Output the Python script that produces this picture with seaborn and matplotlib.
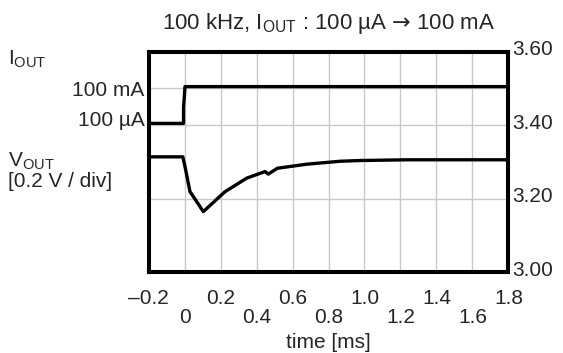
import seaborn as sns
import pandas as pd
import matplotlib.pyplot as plt
from matplotlib.transforms import ScaledTranslation

# traces (y in volts of the right-hand scale)
time_iout = [-0.2, -0.006, -0.006, -0.001, 0.002, 1.8]
iout_trace = [3.405, 3.405, 3.45, 3.48, 3.505, 3.505]

time_vout = [-0.2, -0.01, 0.002, 0.030, 0.039, 0.104, 0.224, 0.345, 0.447,
             0.465, 0.516, 0.679, 0.864, 0.975, 1.237, 1.8]
vout_trace = [3.314, 3.314, 3.288, 3.219, 3.213, 3.165, 3.219, 3.256, 3.274,
              3.267, 3.283, 3.294, 3.302, 3.304, 3.306, 3.306]

x_ticks = [-0.2, 0, 0.2, 0.4, 0.6, 0.8, 1.0, 1.2, 1.4, 1.6, 1.8]
x_labels = ['\u20130.2', '0', '0.2', '0.4', '0.6', '0.8', '1.0', '1.2', '1.4', '1.6', '1.8']
left_ticks = [3.4, 3.5]
left_labels = ['100 \u00b5A', '100 mA']
right_ticks = [3.0, 3.2, 3.4, 3.6]
right_labels = ['3.00', '3.20', '3.40', '3.60']

df_i = pd.DataFrame({'t': time_iout, 'v': iout_trace})
df_v = pd.DataFrame({'t': time_vout, 'v': vout_trace})

sns.set_style('white')
plt.rcParams['font.family'] = ['Liberation Sans', 'DejaVu Sans']
plt.rcParams['mathtext.fontset'] = 'custom'
plt.rcParams['mathtext.rm'] = 'Liberation Sans'
plt.rcParams['mathtext.it'] = 'Liberation Sans:italic'
plt.rcParams['mathtext.sf'] = 'DejaVu Sans'

fig = plt.figure(figsize=(5.63, 3.53), dpi=100)
ax = fig.add_axes([0.264, 0.2286, 0.639, 0.625])

sns.lineplot(data=df_i, x='t', y='v', sort=False, estimator=None, color='black', lw=2.4, ax=ax)
sns.lineplot(data=df_v, x='t', y='v', sort=False, estimator=None, color='black', lw=2.4, ax=ax)

ax.set_xlim(-0.2, 1.8)
ax.set_ylim(3.0, 3.6)
ax.set_xticks(x_ticks, labels=x_labels, fontsize=15)
ax.set_yticks(left_ticks, labels=left_labels, fontsize=15)
ax.set_yticks([3.2], minor=True)
ax.grid(True, which='both', color='#c8c8c8', lw=1.0)
ax.tick_params(which='both', length=0)
ax.tick_params(axis='y', pad=3)
for i, tk in enumerate(ax.xaxis.get_major_ticks()):
    tk.set_pad(12 if i % 2 == 0 else 26)
ax.set_xlabel('time [ms]', fontsize=15, labelpad=4)
ax.set_ylabel('')
ax.set_title('100 kHz, I$_{\\mathrm{OUT}}$ : 100 \u00b5A $\\mathsf{\u2192}$ 100 mA', fontsize=16, pad=16)

# the 100 uA label sits a little above its grid line in the original
ua = ax.yaxis.get_major_ticks()[0].label1
ua.set_transform(ua.get_transform() + ScaledTranslation(0, 5 / 72, fig.dpi_scale_trans))

ax2 = ax.twinx()
ax2.set_ylim(3.0, 3.6)
ax2.set_yticks(right_ticks, labels=right_labels, fontsize=15)
ax2.tick_params(length=0, pad=3)
ax2.grid(False)
for tk in ax2.yaxis.get_major_ticks():
    lb = tk.label2
    lb.set_transform(lb.get_transform() + ScaledTranslation(0, 3 / 72, fig.dpi_scale_trans))

for a in (ax, ax2):
    for s in a.spines.values():
        s.set_linewidth(2.9)
        s.set_color('black')

fig.text(0.014, 0.833, 'I$_{\\mathrm{OUT}}$', fontsize=15, va='center')
fig.text(0.014, 0.544, 'V$_{\\mathrm{OUT}}$', fontsize=15, va='center')
fig.text(0.014, 0.487, '[0.2 V / div]', fontsize=15, va='center')

fig.savefig('out.png', dpi=100)
